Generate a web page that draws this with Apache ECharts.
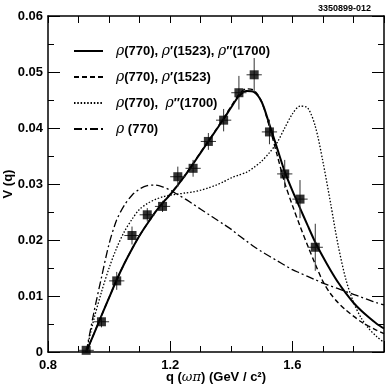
<!DOCTYPE html>
<html>
<head>
<meta charset="utf-8">
<script src="https://cdn.jsdelivr.net/npm/echarts@6/dist/echarts.min.js"></script>
<style>
  html, body { margin: 0; padding: 0; background: #fff; }
  #chart { width: 392px; height: 388px; }
</style>
</head>
<body>
<div id="chart"></div>
<script>
// model curves, sampled on a common q grid (GeV/c^2)
const qGrid = [0.925, 0.95, 0.975, 1.0, 1.025, 1.05, 1.075, 1.1, 1.125, 1.15,
  1.175, 1.2, 1.225, 1.25, 1.275, 1.3, 1.325, 1.35, 1.375, 1.4,
  1.425, 1.45, 1.475, 1.5, 1.525, 1.55, 1.575, 1.6, 1.625, 1.65,
  1.675, 1.7, 1.725, 1.75, 1.775, 1.8, 1.825, 1.85, 1.875, 1.9]

const vAll = [0, 0.0032, 0.0065, 0.0097, 0.0129, 0.0158, 0.0184, 0.0208, 0.0229, 0.0249,
  0.0266, 0.0281, 0.0298, 0.0316, 0.0336, 0.0356, 0.0376, 0.0396, 0.0416, 0.0437,
  0.0457, 0.0466, 0.0464, 0.0446, 0.0406, 0.0364, 0.0322, 0.0288, 0.0257, 0.0226,
  0.0196, 0.0170, 0.0146, 0.0124, 0.0105, 0.0088, 0.0074, 0.0062, 0.0051, 0.0042]

const vRhoP = [0, 0.0032, 0.0065, 0.0097, 0.0129, 0.0158, 0.0184, 0.0208, 0.0229, 0.0249,
  0.0266, 0.0282, 0.0299, 0.0317, 0.0337, 0.0357, 0.0377, 0.0397, 0.0418, 0.0439,
  0.0460, 0.0470, 0.0467, 0.0446, 0.0402, 0.0352, 0.0302, 0.0262, 0.0225, 0.0190,
  0.0157, 0.0126, 0.0104, 0.0088, 0.0075, 0.0064, 0.0054, 0.0046, 0.0039, 0.0033]

const vRhoPP = [0, 0.0058, 0.0107, 0.0150, 0.0186, 0.0215, 0.0237, 0.0255, 0.0265, 0.0272,
  0.0277, 0.0280, 0.0282, 0.0284, 0.0286, 0.0289, 0.0293, 0.0298, 0.0304, 0.0311,
  0.0316, 0.0321, 0.0330, 0.0341, 0.0356, 0.0374, 0.0400, 0.0425, 0.0439, 0.0436,
  0.0403, 0.0340, 0.0266, 0.0190, 0.0130, 0.0089, 0.0061, 0.0042, 0.0028, 0.0017]

const vRho = [0, 0.0070, 0.0133, 0.0193, 0.0236, 0.0262, 0.0280, 0.0291, 0.0297, 0.0298,
  0.0295, 0.0289, 0.0281, 0.0273, 0.0264, 0.0255, 0.0246, 0.0237, 0.0228, 0.0219,
  0.0208, 0.0198, 0.0188, 0.0179, 0.0171, 0.0163, 0.0155, 0.0147, 0.0141, 0.0135,
  0.0129, 0.0123, 0.0118, 0.0113, 0.0108, 0.0103, 0.0098, 0.0093, 0.0088, 0.0084]

// measured points
const qData = [0.925, 0.975, 1.025, 1.075, 1.125, 1.175, 1.225, 1.275, 1.325, 1.375,
  1.425, 1.475, 1.525, 1.575, 1.625, 1.675]
const vData = [0.0003, 0.0054, 0.0127, 0.0208, 0.0245, 0.0260, 0.0313, 0.0328, 0.0376, 0.0414,
  0.0463, 0.0495, 0.0393, 0.0318, 0.0273, 0.0187]
const vErr = [0.0004, 0.001, 0.0016, 0.0016, 0.0012, 0.001, 0.0018, 0.0015, 0.0015, 0.002,
  0.003, 0.003, 0.0022, 0.0025, 0.0034, 0.0042]
const qHalfBin = 0.025

const xLabels = [0.8, 1.2, 1.6]

const names = [
  'ρ(770), ρ′(1523), ρ″(1700)',
  'ρ(770), ρ′(1523)',
  'ρ(770),  ρ″(1700)',
  'ρ (770)'
]
const richNames = {
  [names[0]]: '{a|ρ}{b|(770), }{r|ρ}{b|′(1523), }{r|ρ}{b|″(1700)}',
  [names[1]]: '{a|ρ}{b|(770), }{r|ρ}{b|′(1523)}',
  [names[2]]: '{a|ρ}{b|(770),  }{r|ρ}{b|″(1700)}',
  [names[3]]: '{a|ρ}{b| (770)}'
}

const FONT = 'Liberation Sans, Arial, Helvetica, sans-serif'

function pairs(ys) {
  return qGrid.map((q, i) => [q, ys[i]])
}

function curve(name, ys, type, width) {
  return {
    name,
    type: 'line',
    data: pairs(ys),
    smooth: 0.3,
    symbol: 'none',
    lineStyle: { color: '#000', width, type },
    itemStyle: { color: '#000' },
    z: 3
  }
}

const chart = echarts.init(document.getElementById('chart'), null, { renderer: 'canvas' })

const axisLine = { show: true, lineStyle: { color: '#000', width: 1.5 } }

chart.setOption({
  animation: false,
  grid: { left: 48, right: 8, top: 16, bottom: 36, outerBoundsMode: 'none' },
  graphic: [{
    type: 'text', right: 21, top: 4,
    style: { text: '3350899-012', font: 'bold 9px ' + FONT, fill: '#000' }
  }],
  legend: {
    data: names,
    orient: 'vertical',
    left: 68,
    top: 38,
    itemWidth: 29,
    itemHeight: 14,
    itemGap: 10,
    selectedMode: false,
    itemStyle: { opacity: 0 },
    formatter: (name) => richNames[name],
    textStyle: {
      lineHeight: 16,
      rich: {
        a: { fontFamily: 'DejaVu Serif', fontStyle: 'italic', fontSize: 14, color: '#000', padding: [0, 0, 0, 8] },
        r: { fontFamily: 'DejaVu Serif', fontStyle: 'italic', fontSize: 14, color: '#000' },
        b: { fontFamily: FONT, fontWeight: 'bold', fontSize: 13, color: '#000' }
      }
    }
  },
  xAxis: [
    {
      type: 'value', min: 0.8, max: 1.9, interval: 0.1,
      axisLine,
      axisTick: { inside: true, length: 6, lineStyle: { color: '#000' } },
      splitLine: { show: false },
      axisLabel: {
        margin: 7,
        fontFamily: FONT, fontWeight: 'bold', fontSize: 13, color: '#000',
        formatter: (v) => xLabels.some((l) => Math.abs(l - v) < 1e-6) ? v.toFixed(1) : ''
      },
      name: '{t|q (}{g|ωπ}{t|) (GeV / c²)}',
      nameLocation: 'middle',
      nameGap: 19,
      nameMoveOverlap: false,
      nameTextStyle: {
        rich: {
          t: { fontFamily: FONT, fontWeight: 'bold', fontSize: 13, color: '#000' },
          g: { fontFamily: 'DejaVu Serif', fontStyle: 'italic', fontSize: 13, color: '#000' }
        }
      }
    },
    {
      type: 'value', min: 0.8, max: 1.9, interval: 0.4, position: 'bottom',
      axisLine: { show: false },
      axisTick: { inside: true, length: 11, lineStyle: { color: '#000' } },
      axisLabel: { show: false },
      splitLine: { show: false }
    },
    {
      type: 'value', min: 0.8, max: 1.9, interval: 0.1, position: 'top',
      axisLine,
      axisTick: { inside: true, length: 7, lineStyle: { color: '#000' } },
      axisLabel: { show: false },
      splitLine: { show: false }
    }
  ],
  yAxis: [
    {
      type: 'value', min: 0, max: 0.06, interval: 0.01,
      axisLine,
      axisTick: { inside: true, length: 12, lineStyle: { color: '#000' } },
      minorTick: { show: true, splitNumber: 2, length: 6, lineStyle: { color: '#000' } },
      splitLine: { show: false },
      axisLabel: {
        margin: 5,
        fontFamily: FONT, fontWeight: 'bold', fontSize: 13, color: '#000',
        formatter: (v) => v === 0 ? '0' : v.toFixed(2)
      },
      name: 'V (q)',
      nameLocation: 'middle',
      nameRotate: 90,
      nameGap: 33,
      nameMoveOverlap: false,
      nameTextStyle: { fontFamily: FONT, fontWeight: 'bold', fontSize: 13, color: '#000' }
    },
    {
      type: 'value', min: 0, max: 0.06, interval: 0.01, position: 'right',
      axisLine,
      axisTick: { inside: true, length: 12, lineStyle: { color: '#000' } },
      minorTick: { show: true, splitNumber: 2, length: 6, lineStyle: { color: '#000' } },
      splitLine: { show: false },
      axisLabel: { show: false }
    }
  ],
  series: [
    curve(names[0], vAll, 'solid', 2),
    curve(names[1], vRhoP, [5, 3], 1.4),
    curve(names[2], vRhoPP, [1.5, 1.8], 1.3),
    curve(names[3], vRho, [8, 3, 2, 3], 1.3),
    {
      name: 'errors',
      type: 'custom',
      data: qData.map((q, i) => [q, vData[i], vErr[i]]),
      renderItem: (params, api) => {
        const q = api.value(0)
        const v = api.value(1)
        const e = api.value(2)
        const left = api.coord([q - qHalfBin, v])
        const right = api.coord([q + qHalfBin, v])
        const lo = api.coord([q, Math.max(0, v - e)])
        const hi = api.coord([q, v + e])
        const style = { stroke: '#333', lineWidth: 1 }
        return {
          type: 'group',
          children: [
            { type: 'line', shape: { x1: left[0], y1: left[1], x2: right[0], y2: right[1] }, style },
            { type: 'line', shape: { x1: lo[0], y1: lo[1], x2: hi[0], y2: hi[1] }, style }
          ]
        }
      },
      z: 4
    },
    {
      name: 'data',
      type: 'scatter',
      data: qData.map((q, i) => [q, vData[i]]),
      symbol: 'rect',
      symbolSize: 9,
      itemStyle: { color: '#000' },
      z: 5
    }
  ]
})
</script>
</body>
</html>
